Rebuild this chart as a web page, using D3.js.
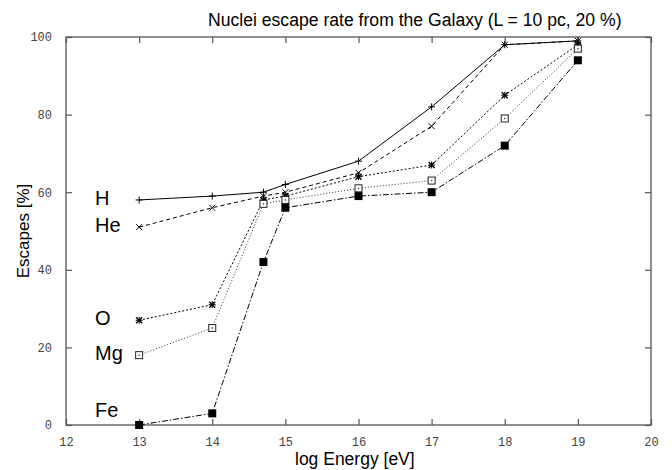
<!DOCTYPE html>
<html><head><meta charset="utf-8">
<script src="https://cdn.jsdelivr.net/npm/d3@7"></script>
<style>body{margin:0;background:#fff}svg{display:block}</style>
</head><body>
<script>
const energies = [13, 14, 14.7, 15, 16, 17, 18, 19];
const seriesNames = ["H", "He", "O", "Mg", "Fe"];
const hValues  = [58, 59, 60, 62, 68, 82, 98, 99];
const heValues = [51, 56, 59, 60, 65, 77, 98, 99];
const oValues  = [27, 31, 58, 59, 64, 67, 85, 98];
const mgValues = [18, 25, 57, 58, 61, 63, 79, 97];
const feValues = [0, 3, 42, 56, 59, 60, 72, 94];
const xTicks = [12, 13, 14, 15, 16, 17, 18, 19, 20];
const yTicks = [0, 20, 40, 60, 80, 100];

const W = 672, H = 470;
const m = {l: 66, r: 21, t: 37, b: 45};
const svg = d3.select("body").append("svg").attr("width", W).attr("height", H);
const x = d3.scaleLinear().domain([12, 20]).range([m.l, W - m.r]);
const y = d3.scaleLinear().domain([0, 100]).range([H - m.b, m.t]);

const series = [
  {name: "H",  vals: hValues,  dash: null,        marker: "plus",  color: "#000", lw: 1},
  {name: "He", vals: heValues, dash: "4,3",       marker: "x",     color: "#000", lw: 1},
  {name: "O",  vals: oValues,  dash: "2,2",       marker: "star",  color: "#000", lw: 1},
  {name: "Mg", vals: mgValues, dash: "1,2",       marker: "box",   color: "#333", lw: 1},
  {name: "Fe", vals: feValues, dash: "6,2,1.5,2", marker: "fbox",  color: "#000", lw: 1}
];

// frame
const axColor = "#555";
svg.append("rect").attr("x", x(12)).attr("y", y(100))
  .attr("width", x(20) - x(12)).attr("height", y(0) - y(100))
  .attr("fill", "none").attr("stroke", axColor).attr("stroke-width", 1.3);

// axes with inward ticks
const tickFont = "'Liberation Mono', 'DejaVu Sans Mono', monospace";
const xb = svg.append("g").attr("transform", `translate(0,${y(0)})`)
  .call(d3.axisBottom(x).tickValues(xTicks).tickSizeInner(-6).tickSizeOuter(0).tickPadding(12).tickFormat(d3.format("d")));
const xt = svg.append("g").attr("transform", `translate(0,${y(100)})`)
  .call(d3.axisTop(x).tickValues(xTicks).tickSizeInner(-6).tickSizeOuter(0).tickFormat(""));
const yl = svg.append("g").attr("transform", `translate(${x(12)},0)`)
  .call(d3.axisLeft(y).tickValues(yTicks).tickSizeInner(-6).tickSizeOuter(0).tickPadding(14).tickFormat(d3.format("d")));
const yr = svg.append("g").attr("transform", `translate(${x(20)},0)`)
  .call(d3.axisRight(y).tickValues(yTicks).tickSizeInner(-6).tickSizeOuter(0).tickFormat(""));
[xb, xt, yl, yr].forEach(g => {
  g.select(".domain").remove();
  g.selectAll(".tick line").attr("stroke", axColor).attr("stroke-width", 1.2);
  g.selectAll("text").attr("font-family", tickFont).attr("font-size", 12).attr("fill", "#444");
});

// lines
const line = d3.line().x((d, i) => x(energies[i])).y(d => y(d));
series.forEach(s => {
  svg.append("path").datum(s.vals).attr("d", line)
    .attr("fill", "none").attr("stroke", s.color).attr("stroke-width", s.lw)
    .attr("stroke-dasharray", s.dash);
});

// markers
function drawMarker(g, type, cx, cy) {
  const r = 3.5;
  if (type === "plus" || type === "star") {
    g.append("path").attr("d", `M${cx - r},${cy}H${cx + r}M${cx},${cy - r}V${cy + r}`)
      .attr("stroke", "#000").attr("stroke-width", 1).attr("fill", "none");
  }
  if (type === "x" || type === "star") {
    const q = 3;
    g.append("path").attr("d", `M${cx - q},${cy - q}L${cx + q},${cy + q}M${cx - q},${cy + q}L${cx + q},${cy - q}`)
      .attr("stroke", "#000").attr("stroke-width", type === "star" ? 1.4 : 1).attr("fill", "none");
  }
  if (type === "box") {
    g.append("rect").attr("x", cx - 3.5).attr("y", cy - 3.5).attr("width", 7).attr("height", 7)
      .attr("fill", "#fff").attr("stroke", "#222").attr("stroke-width", 1);
    g.append("rect").attr("x", cx - 0.7).attr("y", cy - 0.7).attr("width", 1.4).attr("height", 1.4).attr("fill", "#444");
  }
  if (type === "fbox") {
    g.append("rect").attr("x", cx - 4).attr("y", cy - 4).attr("width", 8).attr("height", 8).attr("fill", "#000");
  }
}
series.forEach(s => {
  const g = svg.append("g");
  s.vals.forEach((v, i) => drawMarker(g, s.marker, x(energies[i]), y(v)));
});

// series labels
const labelFont = "'Liberation Sans', Arial, sans-serif";
series.forEach(s => {
  svg.append("text").attr("x", 95).attr("y", y(s.vals[0]) + (s.name === "Fe" ? -8 : 5))
    .attr("font-family", labelFont).attr("font-size", 20)
    .attr("fill", "#000").text(s.name);
});

// title and axis labels
svg.append("text").attr("x", 208).attr("y", 26)
  .attr("font-family", labelFont).attr("font-size", 17.6).text("Nuclei escape rate from the Galaxy (L = 10 pc, 20 %)");
svg.append("text").attr("x", 295).attr("y", 465)
  .attr("font-family", labelFont).attr("font-size", 17.5).text("log Energy [eV]");
svg.append("text").attr("transform", `translate(29,${(y(0) + y(100)) / 2}) rotate(-90)`)
  .attr("text-anchor", "middle")
  .attr("font-family", labelFont).attr("font-size", 17).text("Escapes [%]");
</script>
</body></html>
